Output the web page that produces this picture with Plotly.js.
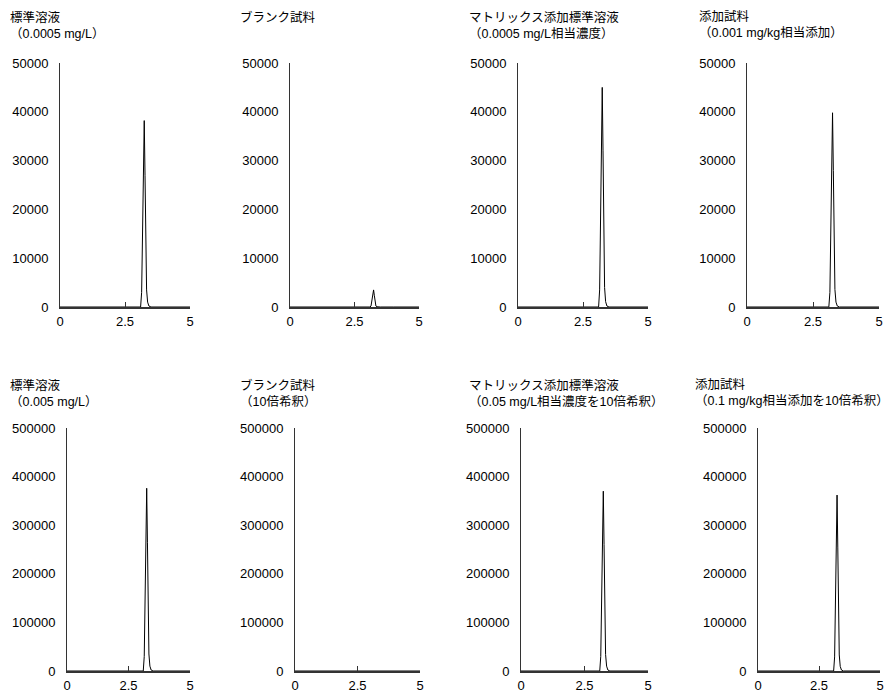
<!DOCTYPE html>
<html>
<head>
<meta charset="utf-8">
<script src="https://cdn.plot.ly/plotly-3.0.1.min.js"></script>
<style>html,body{margin:0;padding:0;background:#fff;}#chart{width:892px;height:696px;}</style>
</head>
<body>
<div id="chart"></div>
<script>
// Retention time (min)
const time = [0, 0.5, 1, 1.5, 2, 2.5, 3, 3.1, 3.14, 3.18, 3.21, 3.24, 3.27, 3.3, 3.33, 3.37, 3.42, 3.5, 4, 4.5, 5];

// Intensities
const std0005   = [0, 0, 0, 0, 0, 0, 0, 0, 3000, 18000, 31000, 38200, 27000, 12000, 3500, 1000, 200, 0, 0, 0, 0];
const blank     = [0, 0, 0, 0, 0, 0, 0, 0, 200, 1400, 2700, 3500, 2300, 800, 200, 50, 0, 0, 0, 0, 0];
const matrix0005= [0, 0, 0, 0, 0, 0, 0, 0, 3500, 21000, 37000, 45000, 32000, 14000, 4000, 1100, 200, 0, 0, 0, 0];
const spike001  = [0, 0, 0, 0, 0, 0, 0, 0, 3000, 19000, 33000, 39800, 28000, 12500, 3600, 1000, 200, 0, 0, 0, 0];
const std005    = [0, 0, 0, 0, 0, 0, 0, 0, 30000, 180000, 310000, 376000, 265000, 120000, 35000, 10000, 2000, 0, 0, 0, 0];
const blank10   = [0, 0, 0, 0, 0, 0, 0, 0, 0, 300, 800, 1200, 800, 300, 100, 0, 0, 0, 0, 0, 0];
const matrix005 = [0, 0, 0, 0, 0, 0, 0, 0, 30000, 177000, 305000, 370000, 260000, 118000, 34000, 10000, 2000, 0, 0, 0, 0];
const spike01   = [0, 0, 0, 0, 0, 0, 0, 0, 29000, 172000, 298000, 362000, 255000, 115000, 33000, 9500, 2000, 0, 0, 0, 0];

const titles = [
  "標準溶液<br>（0.0005 mg/L）",
  "ブランク試料",
  "マトリックス添加標準溶液<br>（0.0005 mg/L相当濃度）",
  "添加試料<br>（0.001 mg/kg相当添加）",
  "標準溶液<br>（0.005 mg/L）",
  "ブランク試料<br>（10倍希釈）",
  "マトリックス添加標準溶液<br>（0.05 mg/L相当濃度を10倍希釈）",
  "添加試料<br>（0.1 mg/kg相当添加を10倍希釈）"
];
const series = [std0005, blank, matrix0005, spike001, std005, blank10, matrix005, spike01];
const yMax = [50000, 50000, 50000, 50000, 500000, 500000, 500000, 500000];
const yTicks1 = [0, 10000, 20000, 30000, 40000, 50000];
const yTickText1 = ["0", "10000", "20000", "30000", "40000", "50000"];
const yTicks2 = [0, 100000, 200000, 300000, 400000, 500000];
const yTickText2 = ["0", "100000", "200000", "300000", "400000", "500000"];
const xTicks = [0, 2.5, 5];
const xTickText = ["0", "2.5", "5"];

// layout geometry (pixels)
const W = 892, H = 696;
const xPix = [[60,190],[290,419],[518,648],[747,879],[67,190],[295,420],[521,648],[758,880]];
const yPix = [[63,307],[428,671]];
const titlePos = [[8,8],[238,8],[467,8],[697,8],[8,376],[238,376],[467,376],[693,376]];

const numFont = {family: "Liberation Sans, Arial, sans-serif", size: 13, color: "#000"};
const data = [];
const layout = {
  width: W, height: H,
  margin: {l: 0, r: 0, t: 0, b: 0},
  paper_bgcolor: "#fff", plot_bgcolor: "rgba(0,0,0,0)",
  showlegend: false,
  font: numFont,
  annotations: []
};

for (let i = 0; i < 8; i++) {
  const n = i + 1;
  const row = i < 4 ? 0 : 1;
  const xd = [xPix[i][0] / W, xPix[i][1] / W];
  const yd = [1 - yPix[row][1] / H, 1 - yPix[row][0] / H];
  const xa = "xaxis" + n, ya = "yaxis" + n, yo = "yaxis" + (n + 8);
  data.push({
    x: time, y: series[i], type: "scatter", mode: "lines",
    line: {color: "#000", width: 1},
    xaxis: "x" + n, yaxis: "y" + n, hoverinfo: "skip"
  });
  layout[xa] = {
    domain: xd, range: [0, 5], anchor: "y" + n,
    tickvals: xTicks, ticktext: xTickText,
    ticks: "inside", ticklen: 5, tickwidth: 1, tickcolor: "#333",
    showline: true, linecolor: "#333", linewidth: 1.5,
    showgrid: false, zeroline: false, ticklabelstandoff: 2,
    tickfont: numFont, fixedrange: true
  };
  layout[ya] = {
    domain: yd, range: [0, yMax[i]], anchor: "x" + n,
    tickvals: row === 0 ? yTicks1 : yTicks2,
    ticktext: row === 0 ? yTickText1 : yTickText2,
    ticks: "", showline: true, linecolor: "#333", linewidth: 1,
    showgrid: false, zeroline: false, ticklabelstandoff: 8,
    tickfont: numFont, fixedrange: true
  };
  // overlay axis only for the top tick mark
  layout[yo] = {
    domain: yd, range: [0, yMax[i]], anchor: "x" + n, overlaying: "y" + n,
    tickvals: [yMax[i]], ticks: "inside", ticklen: 5, tickwidth: 1, tickcolor: "#333",
    showticklabels: false, showline: false, showgrid: false, zeroline: false,
    fixedrange: true
  };
  data.push({x: [null], y: [null], xaxis: "x" + n, yaxis: "y" + (n + 8), type: "scatter", hoverinfo: "skip"});
  layout.annotations.push({
    text: titles[i], xref: "paper", yref: "paper",
    x: titlePos[i][0] / W, y: 1 - titlePos[i][1] / H,
    xanchor: "left", yanchor: "top", align: "left", showarrow: false,
    font: {family: "Liberation Sans, Arial, Noto Sans CJK JP, sans-serif", size: 12.5, color: "#000"}
  });
}

Plotly.newPlot("chart", data, layout, {staticPlot: true, displayModeBar: false});
</script>
</body>
</html>
